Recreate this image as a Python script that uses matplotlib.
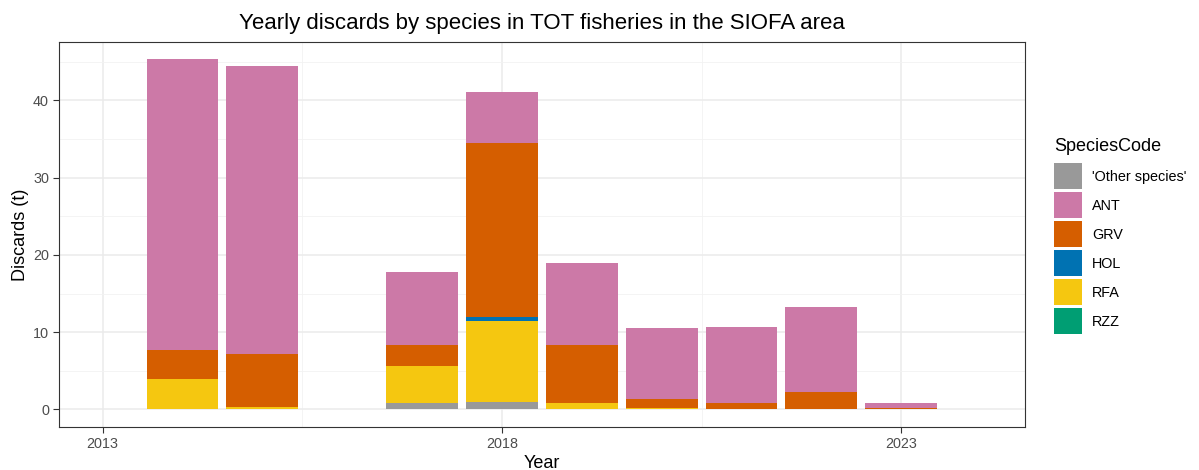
import matplotlib
matplotlib.use("Agg")
import matplotlib.pyplot as plt
from matplotlib.ticker import FixedLocator
import numpy as np

plt.rcParams['font.family'] = ['Liberation Sans', 'DejaVu Sans']

years = [2014, 2015, 2017, 2018, 2019, 2020, 2021, 2022, 2023]
species = ["'Other species'", "ANT", "GRV", "HOL", "RFA", "RZZ"]
colors = {"'Other species'": "#999999", "ANT": "#CC79A7", "GRV": "#D55E00",
          "HOL": "#0072B2", "RFA": "#F5C710", "RZZ": "#009E73"}

other = [0.0, 0.0, 0.8, 1.03, 0.0, 0.0, 0.0, 0.0, 0.0]
rfa = [3.9, 0.3, 4.8, 10.37, 0.9, 0.13, 0.0, 0.0, 0.0]
hol = [0.0, 0.0, 0.0, 0.6, 0.0, 0.0, 0.0, 0.0, 0.0]
grv = [3.8, 6.83, 2.7, 22.5, 7.4, 1.2, 0.8, 2.23, 0.15]
ant = [37.6, 37.3, 9.5, 6.56, 10.7, 9.17, 9.9, 11.07, 0.75]
rzz = [0.0, 0.0, 0.0, 0.0, 0.0, 0.0, 0.0, 0.0, 0.0]

# stacking order from the bottom up
stack = [("'Other species'", other), ("RFA", rfa), ("HOL", hol),
         ("GRV", grv), ("ANT", ant), ("RZZ", rzz)]

fig = plt.figure(figsize=(11.99, 4.70), dpi=100)
ax = fig.add_axes([58.7 / 1199, 43 / 470, (1025 - 58.7) / 1199, (427 - 41.7) / 470])

bottom = np.zeros(len(years))
handles = {}
for name, vals in stack:
    vals = np.array(vals, dtype=float)
    b = ax.bar(years, vals, width=0.9, bottom=bottom, color=colors[name],
               linewidth=0, zorder=3, label=name)
    handles[name] = b
    bottom += vals

total_max = bottom.max()
ax.set_ylim(-0.05 * total_max, total_max * 1.05)
ax.set_xlim(2012.45, 2024.55)

ax.xaxis.set_major_locator(FixedLocator([2013, 2018, 2023]))
ax.xaxis.set_minor_locator(FixedLocator([2015.5, 2020.5]))
ax.yaxis.set_major_locator(FixedLocator([0, 10, 20, 30, 40]))
ax.yaxis.set_minor_locator(FixedLocator([5, 15, 25, 35, 45]))

ax.grid(which='major', color='#EBEBEB', linewidth=1.1, zorder=0)
ax.grid(which='minor', color='#F2F2F2', linewidth=0.6, zorder=0)
ax.set_axisbelow(True)

for s in ax.spines.values():
    s.set_color('#333333')
    s.set_linewidth(0.8)

ax.tick_params(which='major', length=4, width=0.8, color='#333333',
               labelsize=10.4, labelcolor='#4D4D4D', pad=3)
ax.tick_params(which='minor', length=0)

ax.set_xlabel('Year', fontsize=13, color='black', labelpad=3)
ax.set_ylabel('Discards (t)', fontsize=13, color='black', labelpad=3)
ax.set_title('Yearly discards by species in TOT fisheries in the SIOFA area',
             fontsize=16, color='black', pad=9)

leg = fig.legend([handles[s] for s in species], species,
                 loc='upper left', bbox_to_anchor=(1054 / 1199, 1 - 138 / 470),
                 frameon=False, fontsize=10.4, title='SpeciesCode',
                 title_fontsize=13, handlelength=1.95, handleheight=2.4,
                 labelspacing=0.2, handletextpad=0.7, borderaxespad=0,
                 borderpad=0)
leg._legend_box.align = 'left'
leg._legend_box.sep = 6

fig.savefig('out.png', dpi=100)
